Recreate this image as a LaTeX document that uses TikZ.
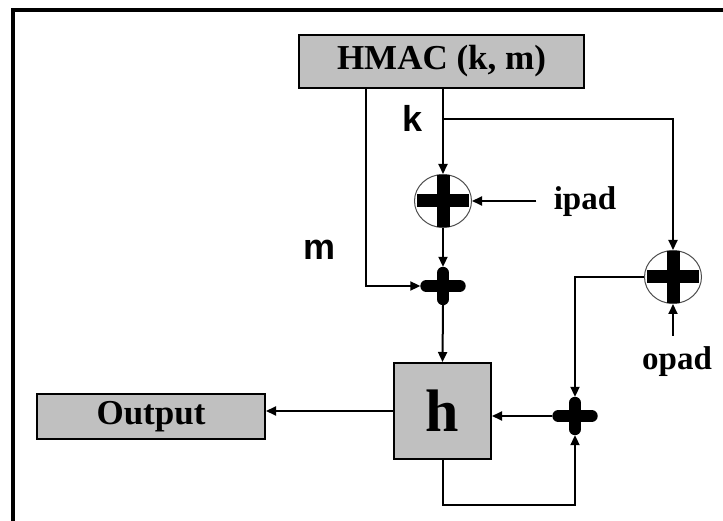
\documentclass[tikz,border=0pt]{standalone}
\usepackage{fontspec}
\setmainfont{Liberation Serif}
\setsansfont{Liberation Sans}
\usetikzlibrary{shapes.geometric, arrows.meta, positioning}
\definecolor{boxgray}{RGB}{192,192,192}

\begin{document}
\begin{tikzpicture}[x=1pt, y=-1pt,
 box/.style={draw, line width=2pt, fill=boxgray, inner sep=0pt},
 xorc/.style={draw=black!70, line width=1pt, ellipse, minimum width=57pt, minimum height=53pt, inner sep=0pt},
 addn/.style={minimum width=45pt, minimum height=38pt, inner sep=0pt},
 plusbar/.style={line width=13pt},
 addbar/.style={line width=12pt, line cap=round, shorten <=6pt, shorten >=6pt},
 arr/.style={line width=2pt, -{Triangle[length=10pt, width=9pt]}},
 lbl/.style={font=\fontsize{33}{33}\selectfont\bfseries},
 letter/.style={font=\fontsize{36}{36}\selectfont\sffamily\bfseries}]
 \useasboundingbox (0,0) rectangle (723,521);
 % frame
 \draw[line width=4pt] (13,523) -- (13,10) -- (725,10);
 % boxes
 \node[box, minimum width=285pt, minimum height=53pt, font=\fontsize{35}{35}\selectfont\bfseries] (hmac) at (441.5,61.5) {HMAC (k, m)};
 \node[box, minimum width=97pt, minimum height=96pt, font=\fontsize{60}{60}\selectfont\bfseries] (h) at (442.5,411) {h};
 \node[box, minimum width=228pt, minimum height=45pt, font=\fontsize{35}{35}\selectfont\bfseries] (out) at (151,416.5) {Output};
 % adders
 \node[xorc] (xi) at (443,201) {};
 \node[xorc] (xo) at (673,277) {};
 \node[addn] (add1) at (443,286) {};
 \node[addn] (add2) at (575,416) {};
 \foreach \n in {xi, xo} {
  \draw[plusbar] ([xshift=-26pt]\n.center) -- ([xshift=26pt]\n.center);
  \draw[plusbar] ([yshift=26pt]\n.center) -- ([yshift=-26pt]\n.center);
 }
 \foreach \n in {add1, add2} {
  \draw[addbar] (\n.west) -- (\n.east);
  \draw[addbar] (\n.north) -- (\n.south);
 }
 % labels
 \node[letter] (klbl) at (413,118) {k};
 \node[letter] (mlbl) at (320,250) {m};
 \node[lbl] (ipad) at (585,202) {ipad};
 \node[lbl] (opad) at (677,362) {opad};
 \coordinate (mtap) at (366,88);
 \coordinate (ktap) at (443,119);
 % connectors
 \draw[arr] (hmac.south -| mtap) |- (add1.west);
 \draw[arr] (hmac.south -| xi) -- (xi.north);
 \draw[arr] (ktap) -| (xo.north);
 \draw[arr, shorten <=14pt] (xi.east -| ipad.west) -- (xi.east);
 \draw[arr, shorten <=8pt] (xo.south |- opad.north) -- (xo.south);
 \draw[arr] (xi.south) -- (add1.north);
 \draw[arr] (add1.south) -- (h.north);
 \draw[arr] (xo.west) -| (add2.north);
 \draw[arr] (add2.west) -- (add2.west -| h.east);
 \draw[arr] (h.south) -- ++(0,45) -| (add2.south);
 \draw[arr] (h.west) -- (h.west -| out.east);
\end{tikzpicture}
\end{document}
